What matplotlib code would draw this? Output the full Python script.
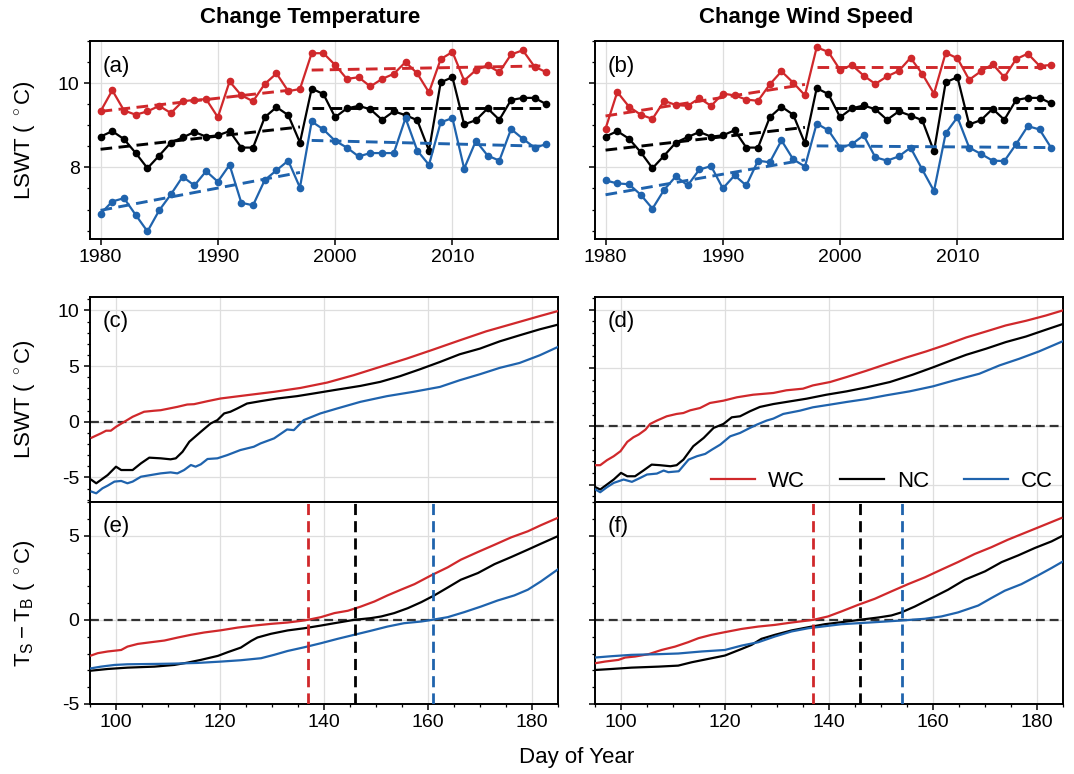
import matplotlib
matplotlib.use("Agg")
import matplotlib.pyplot as plt
from matplotlib.ticker import MultipleLocator

plt.rcParams['font.family'] = ['Liberation Sans', 'DejaVu Sans']
plt.rcParams['mathtext.fontset'] = 'custom'
plt.rcParams['mathtext.rm'] = 'Liberation Sans'
plt.rcParams['mathtext.it'] = 'Liberation Sans:italic'
plt.rcParams['axes.unicode_minus'] = False

RED = '#d0282b'
BLK = '#000000'
BLU = '#1f63ad'

# ---------------- annual data (panels a, b) ----------------
years = list(range(1980, 2019))

a_wc = [9.33, 9.83, 9.35, 9.25, 9.33, 9.46, 9.29, 9.57, 9.60, 9.62, 9.19, 10.04, 9.71, 9.57, 9.98,
        10.23, 9.81, 9.86, 10.71, 10.71, 10.43, 10.10, 10.14, 9.92, 10.10, 10.22, 10.50, 10.23, 9.78,
        10.57, 10.74, 10.06, 10.31, 10.42, 10.26, 10.68, 10.78, 10.39, 10.26]
a_nc = [8.73, 8.86, 8.67, 8.34, 7.98, 8.28, 8.59, 8.71, 8.84, 8.73, 8.76, 8.86, 8.47, 8.47, 9.19,
        9.43, 9.24, 8.59, 9.87, 9.74, 9.19, 9.40, 9.46, 9.38, 9.13, 9.33, 9.24, 9.12, 8.40,
        10.02, 10.14, 9.02, 9.12, 9.40, 9.13, 9.60, 9.65, 9.65, 9.50]
a_cc = [6.90, 7.19, 7.27, 6.87, 6.48, 6.98, 7.36, 7.78, 7.57, 7.91, 7.66, 8.06, 7.16, 7.10, 7.70,
        7.93, 8.16, 7.52, 9.09, 8.90, 8.63, 8.47, 8.26, 8.34, 8.34, 8.34, 9.17, 8.40, 8.06,
        9.07, 9.17, 7.97, 8.63, 8.28, 8.16, 8.91, 8.68, 8.47, 8.55]

b_wc = [8.92, 9.79, 9.44, 9.25, 9.15, 9.58, 9.48, 9.46, 9.64, 9.46, 9.75, 9.71, 9.61, 9.58, 9.97,
        10.28, 10.01, 9.71, 10.85, 10.74, 10.31, 10.43, 10.18, 9.98, 10.16, 10.29, 10.60, 10.22, 9.75,
        10.72, 10.59, 10.08, 10.28, 10.45, 10.14, 10.57, 10.70, 10.41, 10.43]
b_nc = [8.73, 8.86, 8.68, 8.36, 7.98, 8.28, 8.59, 8.72, 8.84, 8.73, 8.76, 8.88, 8.47, 8.47, 9.19,
        9.44, 9.25, 8.57, 9.88, 9.74, 9.19, 9.40, 9.47, 9.38, 9.13, 9.33, 9.23, 9.12, 8.38,
        10.02, 10.14, 9.02, 9.12, 9.39, 9.13, 9.60, 9.65, 9.65, 9.52]
b_cc = [7.69, 7.62, 7.60, 7.35, 7.02, 7.47, 7.79, 7.57, 7.95, 8.03, 7.50, 7.81, 7.57, 8.16, 8.12,
        8.64, 8.19, 8.02, 9.04, 8.88, 8.47, 8.55, 8.76, 8.24, 8.16, 8.26, 8.47, 7.95, 7.44,
        8.81, 9.19, 8.47, 8.32, 8.16, 8.15, 8.55, 8.98, 8.90, 8.46]

# trend segments: (start year, end year) and values at the ends
trend_years_1 = [1980, 1997]
trend_years_2 = [1998, 2018]
a_wc_tr1, a_wc_tr2 = [9.33, 9.86], [10.31, 10.41]
a_nc_tr1, a_nc_tr2 = [8.43, 8.96], [9.40, 9.40]
a_cc_tr1, a_cc_tr2 = [6.98, 7.88], [8.64, 8.50]
b_wc_tr1, b_wc_tr2 = [9.22, 9.97], [10.39, 10.39]
b_nc_tr1, b_nc_tr2 = [8.41, 8.95], [9.40, 9.40]
b_cc_tr1, b_cc_tr2 = [7.35, 8.18], [8.51, 8.47]

# ---------------- daily data (panels c, d) ----------------
c_wc_days = [95.3, 97.1, 98.1, 99.0, 100.0, 101.6, 103.2, 105.4, 107.3, 108.6, 111.8, 113.7, 115.0, 117.6,
             120.1, 125.2, 130.4, 135.5, 140.6, 145.7, 150.8, 155.9, 161.0, 166.1, 171.2, 176.4, 181.5, 185.0]
c_wc = [-1.43, -1.04, -0.80, -0.80, -0.45, 0.0, 0.45, 0.90, 0.99, 1.04, 1.34, 1.55, 1.58, 1.85,
        2.09, 2.39, 2.69, 3.04, 3.52, 4.18, 4.93, 5.67, 6.48, 7.31, 8.12, 8.81, 9.49, 9.94]
c_nc_days = [95.3, 96.2, 97.1, 98.4, 100.0, 101.0, 102.2, 103.2, 104.8, 106.4, 108.6, 110.5, 111.5, 112.8,
             114.1, 116.3, 118.2, 119.5, 120.8, 122.0, 123.3, 125.2, 127.8, 131.0, 134.8, 138.0, 141.9,
             147.0, 150.8, 154.6, 158.5, 162.3, 166.1, 170.0, 173.8, 177.6, 181.5, 185.0]
c_nc = [-5.22, -5.52, -5.22, -4.78, -4.03, -4.33, -4.33, -4.33, -3.73, -3.22, -3.28, -3.37, -3.28, -2.69,
        -1.79, -0.90, -0.15, 0.15, 0.75, 0.90, 1.19, 1.64, 1.85, 2.09, 2.30, 2.54, 2.84,
        3.22, 3.58, 4.09, 4.72, 5.37, 6.06, 6.57, 7.22, 7.76, 8.30, 8.72]
c_cc_days = [95.3, 96.2, 97.4, 98.4, 99.7, 101.0, 102.2, 103.2, 104.8, 106.7, 108.6, 110.5, 111.8, 113.1,
             114.4, 115.3, 116.3, 117.6, 119.5, 121.4, 123.9, 126.5, 127.8, 130.4, 132.9, 134.2, 136.1,
             139.3, 142.5, 147.0, 152.1, 157.2, 162.3, 166.1, 170.0, 173.8, 177.6, 181.5, 185.0]
c_cc = [-6.27, -6.42, -5.97, -5.73, -5.37, -5.31, -5.52, -5.37, -4.93, -4.78, -4.63, -4.54, -4.63, -4.33,
        -3.88, -4.03, -3.82, -3.34, -3.28, -2.99, -2.54, -2.24, -1.94, -1.49, -0.69, -0.75, 0.15,
        0.75, 1.19, 1.79, 2.30, 2.69, 3.13, 3.73, 4.27, 4.84, 5.28, 5.97, 6.72]

d_wc_days = [95.1, 96.0, 97.3, 98.6, 99.9, 101.2, 102.4, 103.4, 104.7, 105.6, 106.9, 108.8, 110.7, 112.0,
             113.3, 115.2, 117.1, 119.7, 122.3, 125.4, 129.3, 131.8, 135.0, 136.9, 140.2, 143.4, 147.2,
             151.0, 154.9, 158.7, 162.5, 166.4, 170.2, 174.0, 177.9, 181.7, 184.9]
d_wc = [-3.34, -3.34, -2.91, -2.57, -2.14, -1.34, -0.94, -0.71, -0.29, 0.20, 0.49, 0.86, 1.06, 1.14,
        1.37, 1.57, 2.00, 2.20, 2.49, 2.71, 2.86, 3.09, 3.23, 3.51, 3.80, 4.23, 4.77,
        5.34, 5.91, 6.43, 7.00, 7.63, 8.14, 8.66, 9.06, 9.51, 9.94]
d_nc_days = [95.1, 96.0, 97.3, 98.6, 100.0, 101.2, 102.7, 104.3, 105.9, 107.5, 109.5, 110.7, 112.0, 113.9,
             115.9, 117.8, 119.7, 121.3, 122.9, 124.8, 126.7, 129.3, 132.5, 135.7, 139.5, 143.4, 147.2,
             151.7, 156.1, 160.0, 163.8, 166.4, 170.2, 174.0, 177.9, 181.7, 184.9]
d_nc = [-5.23, -5.43, -5.00, -4.57, -4.00, -4.29, -4.29, -3.80, -3.29, -3.34, -3.43, -3.34, -2.86, -1.71,
        -1.00, -0.14, 0.20, 0.77, 0.86, 1.29, 1.66, 1.91, 2.14, 2.37, 2.71, 3.00, 3.34,
        3.80, 4.43, 5.06, 5.71, 6.14, 6.66, 7.23, 7.71, 8.29, 8.77]
d_cc_days = [95.1, 96.0, 97.3, 98.6, 100.5, 102.1, 103.7, 105.0, 106.9, 108.2, 109.1, 111.1, 113.0, 114.6,
             116.2, 117.5, 119.1, 121.0, 122.9, 124.8, 126.1, 128.0, 129.3, 131.2, 134.4, 136.9, 140.2,
             143.4, 147.2, 151.0, 155.5, 160.0, 163.8, 168.9, 172.8, 176.6, 180.4, 184.9]
d_cc = [-5.43, -5.66, -5.23, -4.86, -4.57, -4.77, -4.43, -4.14, -4.06, -3.80, -3.94, -3.86, -2.86, -2.57,
        -2.37, -2.00, -1.57, -0.86, -0.57, -0.14, 0.14, 0.49, 0.66, 1.06, 1.34, 1.63, 1.86,
        2.09, 2.34, 2.66, 3.00, 3.43, 3.91, 4.51, 5.23, 5.80, 6.43, 7.29]

# ---------------- daily data (panels e, f) ----------------
e_wc_days = [95.2, 96.5, 98.4, 101.0, 102.2, 104.2, 106.7, 109.3, 111.9, 114.4, 117.0, 120.2, 123.4, 126.6,
             129.8, 133.0, 135.6, 136.9, 139.4, 142.0, 144.6, 147.1, 149.7, 152.2, 154.8, 157.4, 160.6,
             163.8, 166.3, 169.6, 172.8, 176.0, 179.2, 181.7, 184.9]
e_wc = [-2.12, -1.98, -1.88, -1.79, -1.59, -1.43, -1.33, -1.23, -1.05, -0.89, -0.75, -0.62, -0.46, -0.34,
        -0.24, -0.16, -0.06, 0.00, 0.16, 0.40, 0.54, 0.79, 1.09, 1.45, 1.79, 2.12, 2.64,
        3.12, 3.57, 4.03, 4.46, 4.90, 5.26, 5.62, 6.05]
e_nc_days = [95.2, 98.4, 102.2, 107.4, 111.2, 113.8, 116.3, 119.6, 121.5, 124.0, 126.0, 127.2, 129.8, 133.0,
             136.2, 139.4, 142.0, 145.8, 149.0, 151.0, 153.5, 156.1, 158.7, 161.2, 163.8, 166.3, 169.6,
             172.8, 176.0, 179.2, 181.7, 184.9]
e_nc = [-3.02, -2.92, -2.84, -2.78, -2.68, -2.54, -2.38, -2.14, -1.92, -1.65, -1.25, -1.05, -0.83, -0.63,
        -0.50, -0.34, -0.20, 0.00, 0.10, 0.20, 0.40, 0.69, 1.05, 1.45, 1.92, 2.38, 2.78,
        3.31, 3.73, 4.17, 4.52, 4.96]
e_cc_days = [95.2, 97.1, 99.7, 102.2, 107.4, 111.2, 115.7, 120.2, 124.0, 127.9, 130.4, 133.0, 136.2, 139.4,
             142.6, 145.8, 149.0, 152.2, 155.4, 158.7, 160.8, 163.8, 167.0, 170.2, 173.4, 176.6, 179.2,
             181.7, 184.9]
e_cc = [-2.88, -2.78, -2.68, -2.64, -2.62, -2.60, -2.56, -2.48, -2.40, -2.28, -2.08, -1.85, -1.63, -1.39,
        -1.13, -0.89, -0.65, -0.40, -0.20, -0.10, 0.00, 0.16, 0.46, 0.79, 1.15, 1.45, 1.79,
        2.28, 2.98]

f_wc_days = [95.0, 96.9, 99.5, 100.8, 102.7, 105.3, 107.8, 110.4, 112.9, 114.9, 117.4, 120.0, 123.2, 126.4,
             129.6, 132.8, 137.0, 139.8, 142.4, 145.6, 148.8, 152.0, 155.2, 158.4, 161.6, 164.8, 168.0,
             171.2, 174.4, 177.6, 180.8, 184.7]
f_wc = [-2.58, -2.48, -2.38, -2.24, -2.18, -2.04, -1.79, -1.59, -1.33, -1.09, -0.89, -0.73, -0.54, -0.40,
        -0.30, -0.16, 0.00, 0.20, 0.50, 0.89, 1.25, 1.69, 2.12, 2.52, 2.98, 3.43, 3.91,
        4.31, 4.76, 5.16, 5.56, 6.05]
f_nc_days = [95.0, 98.2, 102.0, 107.2, 111.0, 113.6, 116.8, 120.0, 123.2, 125.1, 127.0, 129.6, 132.8, 136.0,
             139.2, 142.4, 145.9, 149.5, 152.0, 153.9, 156.5, 159.7, 162.9, 166.1, 170.0, 173.2, 176.4,
             179.6, 182.8, 184.7]
f_nc = [-2.98, -2.92, -2.84, -2.78, -2.72, -2.52, -2.32, -2.12, -1.73, -1.49, -1.13, -0.89, -0.63, -0.44,
        -0.26, -0.14, 0.00, 0.14, 0.26, 0.44, 0.79, 1.29, 1.79, 2.38, 2.88, 3.43, 3.83,
        4.27, 4.66, 4.96]
f_cc_days = [95.0, 98.2, 102.0, 107.2, 111.0, 115.5, 120.0, 123.2, 126.4, 129.6, 132.8, 136.0, 139.2, 142.4,
             145.6, 148.8, 153.9, 158.4, 161.6, 164.8, 168.7, 171.2, 173.8, 177.0, 180.2, 182.8, 185.0]
f_cc = [-2.24, -2.16, -2.08, -2.04, -2.00, -1.88, -1.79, -1.53, -1.33, -0.99, -0.69, -0.50, -0.38, -0.26,
        -0.20, -0.14, -0.04, 0.06, 0.20, 0.44, 0.85, 1.29, 1.73, 2.12, 2.64, 3.08, 3.47]

# onset days (vertical dashed lines)
e_onset = {'WC': 137, 'NC': 146, 'CC': 161}
f_onset = {'WC': 137, 'NC': 146, 'CC': 154}

series_names = ['WC', 'NC', 'CC']
colors = {'WC': RED, 'NC': BLK, 'CC': BLU}

# ---------------- figure ----------------
W, H = 1074, 774
fig = plt.figure(figsize=(W / 100, H / 100), dpi=100)


def px_axes(left, top, right, bottom):
    return fig.add_axes([left / W, (H - bottom) / H, (right - left) / W, (bottom - top) / H])


ax_a = px_axes(90, 41, 558, 239)
ax_b = px_axes(595, 41, 1063, 239)
ax_c = px_axes(90, 297, 558, 502)
ax_d = px_axes(595, 297, 1063, 502)
ax_e = px_axes(90, 502, 558, 704)
ax_f = px_axes(595, 502, 1063, 704)

TICK_FS = 14
LAB_FS = 16
LW = 1.6


def style(ax):
    for s in ax.spines.values():
        s.set_linewidth(1.4)
    ax.tick_params(which='major', direction='out', length=4.5, width=1.1, labelsize=TICK_FS, pad=3)
    ax.tick_params(which='minor', direction='out', length=2.5, width=0.9)
    ax.grid(True, which='major', color='#dedede', linewidth=0.9)
    ax.set_axisbelow(True)


# top row
for ax, wc, nc, cc, trs, lab in [
        (ax_a, a_wc, a_nc, a_cc, [(a_wc_tr1, a_wc_tr2), (a_nc_tr1, a_nc_tr2), (a_cc_tr1, a_cc_tr2)], '(a)'),
        (ax_b, b_wc, b_nc, b_cc, [(b_wc_tr1, b_wc_tr2), (b_nc_tr1, b_nc_tr2), (b_cc_tr1, b_cc_tr2)], '(b)')]:
    style(ax)
    for name, vals, (t1, t2) in zip(series_names, [wc, nc, cc], trs):
        c = colors[name]
        ax.plot(years, vals, '-o', color=c, lw=LW, ms=4.5, zorder=3)
        ax.plot(trend_years_1, t1, '--', color=c, lw=2.1, dashes=(4, 2.2), zorder=4)
        ax.plot(trend_years_2, t2, '--', color=c, lw=2.1, dashes=(4, 2.2), zorder=4)
    ax.set_xlim(1979.1, 2019)
    ax.set_ylim(6.3, 11.0)
    ax.xaxis.set_major_locator(MultipleLocator(10))
    ax.yaxis.set_major_locator(MultipleLocator(2))
    ax.yaxis.set_minor_locator(MultipleLocator(0.5))
    ax.text(0.028, 0.925, lab, transform=ax.transAxes, ha='left', va='top', fontsize=16)

ax_a.set_ylabel(r'LSWT ( $^\circ$C)', fontsize=LAB_FS)
ax_b.tick_params(axis='y', labelleft=False)

# middle row
for ax, data, lab, ylim in [
        (ax_c, [(c_wc_days, c_wc), (c_nc_days, c_nc), (c_cc_days, c_cc)], '(c)', (-7.2, 11.2)),
        (ax_d, [(d_wc_days, d_wc), (d_nc_days, d_nc), (d_cc_days, d_cc)], '(d)', (-6.5, 11.1))]:
    style(ax)
    for name, (dd, vv) in zip(series_names, data):
        ax.plot(dd, vv, color=colors[name], lw=LW, label=name, zorder=3)
    ax.axhline(0, color='#333333', lw=1.6, dashes=(4, 2.2), zorder=2)
    ax.set_xlim(95, 185)
    ax.set_ylim(*ylim)
    ax.xaxis.set_major_locator(MultipleLocator(20))
    ax.xaxis.set_minor_locator(MultipleLocator(5))
    ax.yaxis.set_major_locator(MultipleLocator(5))
    ax.yaxis.set_minor_locator(MultipleLocator(1))
    ax.tick_params(axis='x', which='both', bottom=False, labelbottom=False)
    ax.text(0.028, 0.93, lab, transform=ax.transAxes, ha='left', va='top', fontsize=16)

ax_c.set_ylabel(r'LSWT ( $^\circ$C)', fontsize=LAB_FS)
ax_d.tick_params(axis='y', labelleft=False)
ax_d.legend(loc='lower right', ncol=3, frameon=False, fontsize=16, handlelength=2.0,
            handletextpad=0.58, columnspacing=1.55, borderpad=0.2, borderaxespad=0.25)

# bottom row
for ax, data, onset, lab in [
        (ax_e, [(e_wc_days, e_wc), (e_nc_days, e_nc), (e_cc_days, e_cc)], e_onset, '(e)'),
        (ax_f, [(f_wc_days, f_wc), (f_nc_days, f_nc), (f_cc_days, f_cc)], f_onset, '(f)')]:
    style(ax)
    for name, (dd, vv) in zip(series_names, data):
        ax.plot(dd, vv, color=colors[name], lw=LW, zorder=3)
    ax.axhline(0, color='#333333', lw=1.6, dashes=(4, 2.2), zorder=2)
    for name in series_names:
        ax.axvline(onset[name], color=colors[name], lw=2.0, dashes=(4, 2.2), zorder=4)
    ax.set_xlim(95, 185)
    ax.set_ylim(-5, 7)
    ax.xaxis.set_major_locator(MultipleLocator(20))
    ax.xaxis.set_minor_locator(MultipleLocator(5))
    ax.yaxis.set_major_locator(MultipleLocator(5))
    ax.yaxis.set_minor_locator(MultipleLocator(1))
    ax.text(0.028, 0.93, lab, transform=ax.transAxes, ha='left', va='top', fontsize=16)

ax_e.set_ylabel(r'$\mathrm{T_S - T_B}$ ( $^\circ$C)', fontsize=LAB_FS)
ax_f.tick_params(axis='y', labelleft=False)

for ax in (ax_a, ax_c, ax_e):
    ax.yaxis.set_label_coords(-0.113, 0.5)

fig.text(310 / W, 1 - 18 / H, 'Change Temperature', ha='center', va='center', fontsize=16, fontweight='bold')
fig.text(806 / W, 1 - 18 / H, 'Change Wind Speed', ha='center', va='center', fontsize=16, fontweight='bold')
fig.text(576.5 / W, 1 - 758 / H, 'Day of Year', ha='center', va='center', fontsize=16)

fig.savefig('out.png', dpi=100)
